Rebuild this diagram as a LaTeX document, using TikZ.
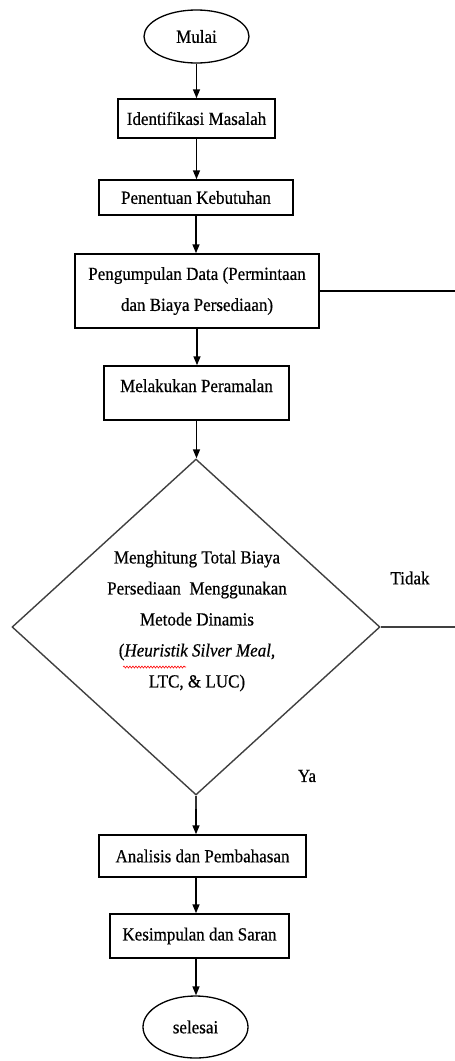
\documentclass[tikz,border=0pt]{standalone}
\usepackage{fontspec}
\setmainfont{Liberation Serif}[FakeStretch=0.92,FakeBold=0.5]
\usetikzlibrary{shapes.geometric,arrows.meta,decorations.pathmorphing}
\begin{document}
\begin{tikzpicture}[x=1pt,y=-1pt,
  every node/.style={font=\rmfamily\fontsize{18.5}{31}\selectfont},
  box/.style={draw,line width=1.5pt,rectangle,inner sep=0pt,align=center},
  term/.style={draw,line width=1.3pt,ellipse,inner sep=0pt},
  dec/.style={draw=black!75,line width=1.4pt,diamond,inner sep=0pt},
  arr/.style={line width=1.5pt,-{Triangle[length=9pt,width=7pt]}},
  ln/.style={line width=1.5pt},
  lbl/.style={inner sep=0pt}]
\useasboundingbox (0,0) rectangle (455,1061);

\node[term,minimum width=105pt,minimum height=53pt] (mulai) at (196.5,36.5) {Mulai};
\node[box,minimum width=157pt,minimum height=39pt] (idm) at (196.5,118.5) {Identifikasi Masalah};
\node[box,minimum width=194pt,minimum height=35pt] (pk) at (196,197.5) {Penentuan Kebutuhan};
\node[box,minimum width=244pt,minimum height=74pt] (pd) at (197,291) {Pengumpulan Data (Permintaan\\dan Biaya Persediaan)};
\node[box,minimum width=185pt,minimum height=54pt,text height=12pt,text depth=14pt] (mp) at (196.5,393) {Melakukan Peramalan};
\node[dec,minimum width=368pt,minimum height=336pt] (dk) at (196,627) {};
\node[lbl,align=center] (dtext) at (197,621) {Menghitung Total Biaya\\Persediaan~~Menggunakan\\Metode Dinamis\\(\textit{Heuristik Silver Meal},\\LTC, \& LUC)};
\node[box,minimum width=207pt,minimum height=42pt] (ap) at (202.5,856) {Analisis dan Pembahasan};
\node[box,minimum width=179pt,minimum height=44pt] (ks) at (199.5,936) {Kesimpulan dan Saran};
\node[term,minimum width=105pt,minimum height=62pt] (sel) at (195.5,1027) {selesai};

\node[lbl] (tidak) at (410,578) {Tidak};
\node[lbl] (ya) at (307,776) {Ya};

\coordinate (r1) at (455,291);
\coordinate (r2) at (455,627);

\draw[arr] (mulai.south) -- (mulai.south |- idm.north);
\draw[arr] (idm.south) -- (idm.south |- pk.north);
\draw[arr] (pk.south) -- (pk.south |- pd.north);
\draw[arr] (pd.south) -- (pd.south |- mp.north);
\draw[arr] (mp.south) -- (mp.south |- dk.north);
\draw[ln,black!80] (dk.south) -- ++(0,13) coordinate (dk2);
\draw[arr] (dk2) -- (dk2 |- ap.north);
\draw[arr] (ap.south -| dk2) -- (dk2 |- ks.north);
\draw[arr] (ks.south -| dk2) -- (dk2 |- sel.north);

\draw[ln] (pd.east) -- (r1);
\draw[ln,black!75] (dk.east) -- (r2);

\draw[red,line width=0.6pt,decorate,decoration={snake,amplitude=1pt,segment length=3pt}] (123,667) -- (186,667);
\end{tikzpicture}
\end{document}
